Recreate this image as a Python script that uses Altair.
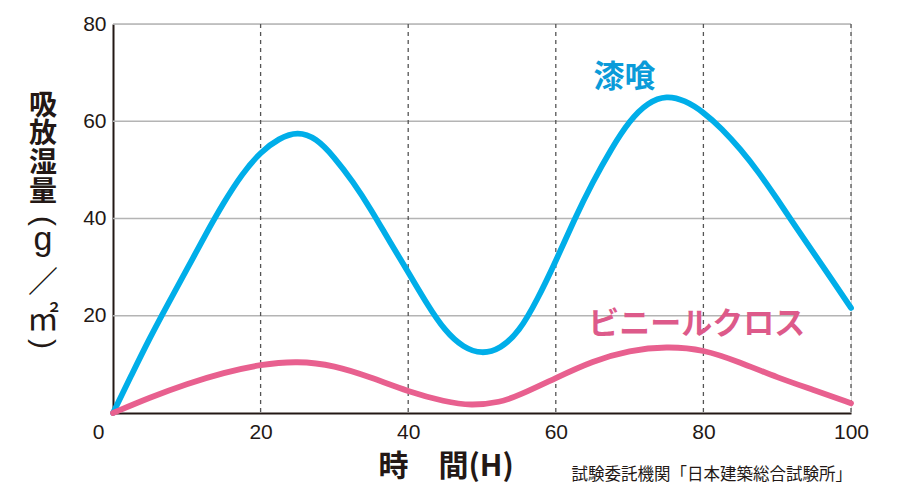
import altair as alt
import pandas as pd

# 漆喰 (blue)
x_shikkui = [0, 2.5, 5, 7.5, 10, 12.5, 15, 17.5, 20, 22.5, 25, 27.5, 30, 32.5, 35, 37.5, 40,
             42.5, 45, 47.5, 50, 52.5, 55, 57.5, 60, 62.5, 65, 67.5, 70, 72.5, 75, 77.5, 80,
             82.5, 85, 87.5, 90, 92.5, 95, 97.5, 100]
y_shikkui = [0, 7.8, 15.5, 22.6, 29.5, 36.6, 43.3, 49.2, 53.7, 56.5, 57.9, 56.6, 52.6, 47.6, 41.8, 35.2, 29.0,
             22.5, 16.8, 13.4, 12.1, 13.2, 16.6, 23.3, 31.2, 39.8, 47.5, 54.3, 60.2, 63.9, 65.3, 64.3, 61.9,
             58.5, 54.3, 49.5, 44, 38.3, 32.8, 27.2, 21.6]

# ビニールクロス (pink)
x_vinyl = [0, 5, 10, 15, 20, 25, 30, 35, 40, 45, 48.5, 52.5, 55, 60, 65, 70, 75, 80, 85, 90, 95, 100]
y_vinyl = [0, 3.2, 6.0, 8.3, 10.0, 10.7, 9.8, 7.3, 4.4, 2.3, 1.5, 2.2, 3.6, 7.2, 10.7, 12.9, 13.7,
           13.1, 10.4, 7.3, 4.7, 2.0]

series_names = ["漆喰", "ビニールクロス"]
series_colors = ["#00AEE9", "#E8608F"]
label_colors = ["#0B9BD9", "#DD5A8A"]
label_x = [69.3, 79.1]
label_y = [68.9, 18.2]

x_ticks = [0, 20, 40, 60, 80, 100]
y_ticks = [0, 20, 40, 60, 80]

x_title = "時　間(H)"
y_title_chars = ["吸", "放", "湿", "量"]
y_title_unit = ["(", "g", "／", "㎡", ")"]
source_note = "試験委託機関「日本建築総合試験所」"

df = pd.concat([
    pd.DataFrame({"時間": x_shikkui, "値": y_shikkui, "系列": series_names[0]}),
    pd.DataFrame({"時間": x_vinyl, "値": y_vinyl, "系列": series_names[1]}),
])
labels = pd.DataFrame({"時間": label_x, "値": label_y, "系列": series_names, "色": label_colors})

xs = alt.Scale(domain=[0, 100], nice=False)
ys = alt.Scale(domain=[0, 80], nice=False)
INK = "#231815"

vgrid = alt.Chart(pd.DataFrame({"t": x_ticks[1:]})).mark_rule(
    color="#555555", strokeDash=[4, 4], strokeWidth=1.3
).encode(x=alt.X("t:Q", scale=xs))

hgrid = alt.Chart(pd.DataFrame({"v": y_ticks[1:]})).mark_rule(
    color="#b4b4b4", strokeWidth=1.6
).encode(y=alt.Y("v:Q", scale=ys))

lines = alt.Chart(df).mark_line(strokeWidth=5.8, interpolate="basis", strokeCap="round").encode(
    x=alt.X("時間:Q", scale=xs, axis=alt.Axis(
        values=x_ticks, grid=False, ticks=False, domain=True, domainColor=INK,
        domainWidth=2, labelFontSize=21, labelFont="Liberation Sans", labelColor=INK,
        labelPadding=8,
        labelAlign=alt.condition("datum.value == 0", alt.value("right"), alt.value("center")),
        labelOffset=alt.condition("datum.value == 0", alt.value(-9), alt.value(0)),
        title=x_title, titleFont="Noto Sans CJK JP", titleFontSize=30, titleFontWeight="bold",
        titleColor=INK, titleAnchor="start", titleX=265, titleY=38, titleBaseline="top",
    )),
    y=alt.Y("値:Q", scale=ys, axis=alt.Axis(
        values=y_ticks[1:], grid=False, ticks=False, domain=True, domainColor=INK,
        domainWidth=2, labelFontSize=21, labelFont="Liberation Sans", labelColor=INK,
        labelPadding=7, title=None,
    )),
    color=alt.Color("系列:N", scale=alt.Scale(domain=series_names, range=series_colors), legend=None),
)

text = alt.Chart(labels).mark_text(
    font="Noto Sans CJK JP", fontSize=31, fontWeight="bold", align="center", baseline="middle"
).encode(
    x=alt.X("時間:Q", scale=xs),
    y=alt.Y("値:Q", scale=ys),
    text="系列:N",
    color=alt.Color("色:N", scale=None),
)

# vertical y-axis title, one character per text mark
title_layers = []
cjk_y = [82.5, 111, 140, 169]
for ch, yy in zip(y_title_chars, cjk_y):
    title_layers.append(
        alt.Chart(pd.DataFrame({"c": [ch]})).mark_text(
            font="Noto Sans CJK JP", fontSize=28, fontWeight="bold", color=INK,
            align="center", baseline="middle"
        ).encode(text="c:N", x=alt.value(-70), y=alt.value(yy))
    )
unit_specs = [
    # char, y, font, size, weight, angle
    (y_title_unit[0], 197, "Liberation Sans", 30, "normal", 90),
    (y_title_unit[1], 216, "Liberation Sans", 34, "normal", 0),
    (y_title_unit[2], 259, "Noto Sans CJK JP", 30, "normal", 0),
    (y_title_unit[3], 296, "Noto Sans CJK JP", 32, "normal", 0),
    (y_title_unit[4], 320, "Liberation Sans", 30, "normal", 90),
]
for ch, yy, fnt, sz, wt, ang in unit_specs:
    title_layers.append(
        alt.Chart(pd.DataFrame({"c": [ch]})).mark_text(
            font=fnt, fontSize=sz, fontWeight=wt, color=INK, angle=ang,
            align="center", baseline="middle"
        ).encode(text="c:N", x=alt.value(-70), y=alt.value(yy))
    )

note = alt.Chart(pd.DataFrame({"t": [source_note]})).mark_text(
    font="Noto Sans CJK JP", fontSize=16.5, color=INK, align="right", baseline="middle"
).encode(text="t:N", x=alt.value(739), y=alt.value(451))

chart = alt.layer(hgrid, vgrid, lines, text, note, *title_layers).properties(
    width=738, height=389,
    autosize=alt.AutoSizeParams(type="none"),
    padding={"left": 105, "top": 16, "right": 40, "bottom": 80},
).configure_view(stroke=None).configure(background="white")

chart.save("out.html", embed_options={"renderer": "svg", "actions": False})
